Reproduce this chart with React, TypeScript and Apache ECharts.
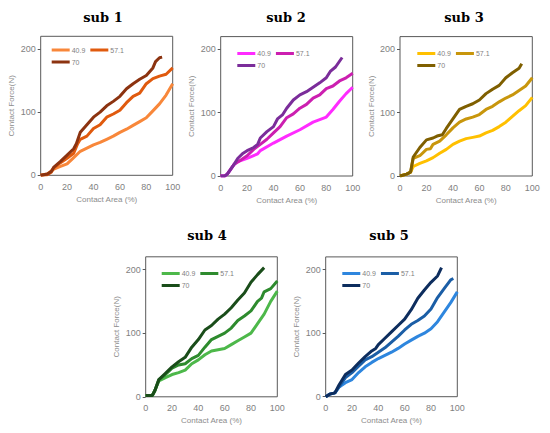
import React, { useEffect, useRef } from "react";
import * as echarts from "echarts";

// ---------- data ----------
const subTitles = ["sub 1", "sub 2", "sub 3", "sub 4", "sub 5"];
const seriesLabels = ["40.9", "57.1", "70"];
const xTickValues = [0, 20, 40, 60, 80, 100];
const yTickValues = [0, 100, 200];

const sub1_409 = [[0,0],[5,2],[10,10],[15,14],[20,18],[25,28],[30,38],[35,43],[40,48],[45,52],[50,57],[55,62],[60,68],[65,73],[70,79],[75,85],[80,91],[85,102],[90,113],[95,127],[100,145]];
const sub1_571 = [[0,0],[5,1],[8,5],[10,12],[15,20],[20,27],[25,35],[28,50],[30,57],[35,62],[40,74],[45,80],[50,92],[55,97],[60,103],[65,115],[70,125],[75,130],[80,145],[85,153],[90,157],[95,160],[100,170]];
const sub1_70 = [[0,0],[5,2],[8,6],[10,13],[15,22],[20,32],[25,42],[27,50],[30,68],[35,80],[40,92],[45,100],[50,110],[55,117],[60,125],[65,137],[70,145],[75,152],[80,158],[85,170],[87,180],[90,186],[92,187]];

const sub2_409 = [[0,0],[3,0],[5,3],[10,18],[12,22],[20,28],[28,35],[30,40],[40,52],[50,63],[60,73],[70,85],[80,93],[85,105],[90,118],[95,130],[100,140]];
const sub2_571 = [[0,0],[3,0],[5,3],[10,18],[15,25],[20,32],[25,42],[30,50],[35,58],[40,68],[45,78],[50,92],[55,98],[60,107],[65,113],[70,123],[75,128],[80,138],[85,142],[90,150],[95,155],[100,162]];
const sub2_70 = [[0,0],[3,0],[5,3],[10,18],[13,28],[17,36],[20,40],[25,45],[28,50],[30,60],[35,70],[40,78],[43,90],[47,97],[50,107],[55,120],[60,128],[65,133],[70,140],[75,147],[80,155],[83,165],[87,172],[92,187]];

const sub3_409 = [[0,0],[5,3],[8,6],[10,15],[15,20],[20,24],[25,29],[30,36],[35,42],[40,50],[45,55],[50,59],[55,61],[60,63],[65,68],[70,72],[75,78],[80,85],[85,94],[90,103],[95,111],[100,124]];
const sub3_571 = [[0,0],[5,3],[8,6],[10,28],[15,32],[20,42],[23,43],[25,50],[30,55],[35,65],[40,76],[45,85],[50,90],[55,93],[60,97],[65,105],[70,110],[75,117],[80,123],[85,128],[90,135],[95,142],[100,155]];
const sub3_70 = [[0,0],[5,3],[8,6],[10,30],[15,45],[20,57],[25,60],[28,63],[32,65],[35,75],[40,90],[45,105],[50,110],[55,114],[60,120],[65,130],[70,137],[75,143],[80,155],[85,163],[90,170],[92,177]];

const sub4_409 = [[0,2],[5,2],[7,10],[10,25],[15,30],[20,35],[25,38],[30,42],[35,52],[40,58],[45,66],[50,72],[55,74],[60,76],[65,82],[70,88],[75,94],[80,100],[85,115],[90,130],[95,150],[100,166]];
const sub4_571 = [[0,2],[5,2],[7,10],[10,27],[15,35],[20,45],[25,50],[30,52],[35,60],[40,65],[45,78],[50,90],[55,95],[60,100],[65,108],[70,120],[75,127],[80,135],[85,150],[88,155],[90,165],[95,170],[100,182]];
const sub4_70 = [[0,2],[5,2],[7,10],[10,27],[15,37],[20,47],[25,55],[30,62],[35,78],[40,90],[45,105],[50,112],[55,122],[60,130],[65,140],[70,152],[75,163],[80,180],[85,192],[90,203]];

const sub5_409 = [[0,0],[3,4],[7,6],[10,15],[15,22],[20,27],[25,38],[30,47],[35,54],[40,60],[45,65],[50,70],[55,76],[60,83],[65,89],[70,95],[75,100],[80,107],[85,118],[90,133],[95,148],[100,165]];
const sub5_571 = [[0,0],[3,4],[7,6],[10,15],[15,30],[20,38],[25,48],[30,58],[35,63],[40,70],[45,77],[50,86],[55,95],[60,105],[65,114],[70,120],[75,127],[80,138],[85,156],[90,170],[95,184],[97,186]];
const sub5_70 = [[0,0],[3,4],[7,6],[10,18],[15,35],[20,42],[25,53],[30,63],[35,72],[38,76],[40,82],[45,92],[50,102],[55,112],[60,122],[65,137],[70,155],[75,168],[80,180],[85,190],[88,203]];

const subData = [
  [sub1_409, sub1_571, sub1_70],
  [sub2_409, sub2_571, sub2_70],
  [sub3_409, sub3_571, sub3_70],
  [sub4_409, sub4_571, sub4_70],
  [sub5_409, sub5_571, sub5_70],
];

const subColors = [
  ["#F8873A", "#E05A0E", "#8C3310"],
  ["#FF2BFF", "#CC1FB0", "#7B2D9A"],
  ["#FFC000", "#C8960C", "#7F5F00"],
  ["#4DB84A", "#2E8B2E", "#1A4D1A"],
  ["#2E86DE", "#1B5EA6", "#0D2D5E"],
];

// ---------- layout ----------
const grids = [
  { left: 40.7, top: 36.3, width: 132, height: 139 },
  { left: 220.7, top: 36.6, width: 132, height: 139.4 },
  { left: 400, top: 36.6, width: 132.3, height: 139.4 },
  { left: 145.7, top: 256.8, width: 131.6, height: 140 },
  { left: 325.7, top: 256.9, width: 131.6, height: 139.8 },
];
const titlePos = [
  { x: 103, y: 11 },
  { x: 286, y: 11 },
  { x: 464, y: 11 },
  { x: 207, y: 229 },
  { x: 389, y: 229 },
];
const legendPos = [
  { x: 51.7, y: 46.5 },
  { x: 237.3, y: 50 },
  { x: 417.3, y: 50 },
  { x: 161.7, y: 270 },
  { x: 342.3, y: 270 },
];

const FONT = "Liberation Sans";

export default function App() {
  const ref = useRef<HTMLDivElement>(null);
  useEffect(() => {
    if (!ref.current) return;
    const chart = echarts.init(ref.current, null, { renderer: "svg" });
    const option: any = {
      animation: false,
      backgroundColor: "#ffffff",
      textStyle: { fontFamily: FONT },
      title: subTitles.map((t, i) => ({
        text: t,
        left: titlePos[i].x,
        top: titlePos[i].y,
        textAlign: "center",
        padding: 0,
        textStyle: {
          fontFamily: "DejaVu Serif",
          fontWeight: "bold",
          fontSize: 13,
          color: "#000000",
        },
      })),
      legend: subTitles.map((_, i) => ({
        left: legendPos[i].x,
        top: legendPos[i].y,
        width: 85,
        padding: 0,
        itemGap: 5,
        itemWidth: 18,
        itemHeight: 3,
        icon: "rect",
        data: seriesLabels.map((l, k) => ({
          name: `s${i + 1}-${l}`,
          itemStyle: { color: subColors[i][k] },
        })),
        formatter: (name: string) => name.split("-")[1],
        textStyle: { fontSize: 7, color: "#7f7f7f", fontFamily: FONT, padding: [0, 0, 0, -3] },
        selectedMode: false,
      })),
      grid: grids.map((g) => ({
        left: g.left,
        top: g.top,
        width: g.width,
        height: g.height,
        show: true,
        borderColor: "#595959",
        borderWidth: 1,
        backgroundColor: "transparent",
      })),
      xAxis: grids.map((_, i) => ({
        type: "value",
        gridIndex: i,
        min: 0,
        max: 100,
        interval: 20,
        axisLine: { show: false },
        axisTick: { show: false },
        splitLine: { show: false },
        axisLabel: {
          fontSize: 9,
          color: "#7f7f7f",
          margin: 7,
          fontFamily: FONT,
          customValues: xTickValues,
        },
        name: "Contact Area (%)",
        nameLocation: "middle",
        nameGap: 20,
        nameTextStyle: { fontSize: 8, color: "#8c8c8c", fontFamily: FONT },
      })),
      yAxis: grids.map((_, i) => ({
        type: "value",
        gridIndex: i,
        min: 0,
        max: 220,
        interval: 100,
        axisLine: { show: false },
        axisTick: {
          show: true,
          length: 3,
          lineStyle: { color: "#595959" },
          customValues: yTickValues,
        },
        splitLine: { show: false },
        axisLabel: {
          fontSize: 9,
          color: "#7f7f7f",
          margin: 5,
          fontFamily: FONT,
          customValues: yTickValues,
        },
        name: "Contact Force(N)",
        nameLocation: "middle",
        nameGap: 25,
        nameTextStyle: { fontSize: 8, color: "#8c8c8c", fontFamily: FONT },
      })),
      series: subData.flatMap((set, i) =>
        set.map((d, k) => ({
          type: "line",
          name: `s${i + 1}-${seriesLabels[k]}`,
          xAxisIndex: i,
          yAxisIndex: i,
          data: d,
          showSymbol: false,
          symbol: "none",
          color: subColors[i][k],
          lineStyle: { width: 3, color: subColors[i][k] },
          z: 2 + k,
        }))
      ),
    };
    chart.setOption(option);
    return () => chart.dispose();
  }, []);
  return (
    <div
      ref={ref}
      style={{ position: "absolute", left: 0, top: 0, width: 550, height: 433 }}
    />
  );
}
